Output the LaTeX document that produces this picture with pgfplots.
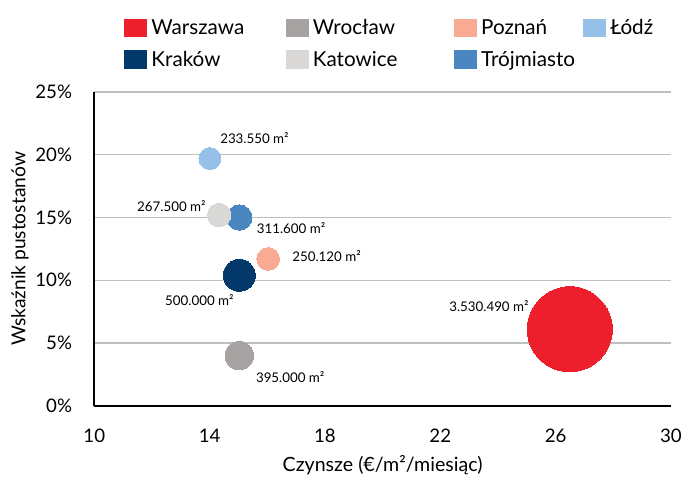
\documentclass[border=0pt]{standalone}
\usepackage{fontspec}
\setmainfont{Lato}
\usepackage{pgfplots}
\pgfplotsset{compat=1.18}
\definecolor{cWar}{HTML}{ED1F2D}
\definecolor{cWro}{HTML}{A6A2A1}
\definecolor{cPoz}{HTML}{F8AA93}
\definecolor{cLod}{HTML}{96C0E8}
\definecolor{cKra}{HTML}{02386A}
\definecolor{cKat}{HTML}{D9D8D6}
\definecolor{cTro}{HTML}{4A87C0}
\begin{document}
\begin{tikzpicture}
\begin{axis}[
  scale only axis, width=432.5pt, height=235.3pt,
  xmin=10, xmax=30, ymin=0, ymax=25,
  axis x line=bottom, axis y line=left,
  axis line style={-, black, line width=1.2pt},
  xtick={10,14,18,22,26,30}, ytick={0,5,10,15,20,25},
  major tick length=0pt,
  ymajorgrids, grid style={color=black!25, line width=0.8pt},
  /pgf/number format/assume math mode=true,
  xticklabel={\pgfmathprintnumber{\tick}},
  yticklabel={\pgfmathprintnumber{\tick}\%},
  ticklabel style={font=\fontsize{14}{17}\selectfont},
  yticklabel style={inner sep=0pt, anchor=east, xshift=-16.5pt},
  xticklabel style={inner sep=0pt, anchor=north, yshift=-17.5pt},
  xlabel={Czynsze (€/m²/miesiąc)},
  ylabel={Wskaźnik pustostanów},
  xlabel style={font=\fontsize{14.7}{18}\selectfont, at={(axis description cs:0.5,-0.1906)}, anchor=center, inner sep=0pt},
  ylabel style={font=\fontsize{14.4}{18}\selectfont, at={(axis description cs:-0.129,0.5)}, anchor=center, inner sep=0pt, rotate=0},
  clip=false,
  legend columns=4,
  legend cell align=left,
  legend image code/.code={\fill[#1] (0pt,-6.9pt) rectangle (17.4pt,6.9pt);},
  legend style={at={(axis description cs:0.0515,1.235)}, anchor=north west,
    draw=none, fill=none, inner sep=0pt,
    nodes={inner sep=0pt, scale=1},
    column sep=0pt, row sep=10pt,
    font=\fontsize{15.5}{18}\selectfont,
    /tikz/every even column/.append style={column sep=0pt}},
]
\addlegendimage{fill=cWar, draw=none}
\addlegendentry{\makebox[103.7pt][l]{\hspace{3pt}Warszawa}}
\addlegendimage{fill=cWro, draw=none}
\addlegendentry{\makebox[108.75pt][l]{\hspace{3pt}Wrocław}}
\addlegendimage{fill=cPoz, draw=none}
\addlegendentry{\makebox[79.5pt][l]{\hspace{3pt}Poznań}}
\addlegendimage{fill=cLod, draw=none}
\addlegendentry{\hspace{3pt}Łódź}
\addlegendimage{fill=cKra, draw=none}
\addlegendentry{\makebox[103.7pt][l]{\hspace{3pt}Kraków}}
\addlegendimage{fill=cKat, draw=none}
\addlegendentry{\makebox[108.75pt][l]{\hspace{3pt}Katowice}}
\addlegendimage{fill=cTro, draw=none}
\addlegendentry{\makebox[79.5pt][l]{\hspace{3pt}Trójmiasto}}

% bubbles: area in thousand m2, radius = 12pt * sqrt(area/500)
\addplot[forget plot, only marks, mark=*, color=cWar, line width=0pt, mark size={12*sqrt(3530.49/500)}] coordinates {(26.49,6.1)};
\addplot[forget plot, only marks, mark=*, color=cWro, line width=0pt, mark size={12*sqrt(395/500)}] coordinates {(15.03,4.0)};
\addplot[forget plot, only marks, mark=*, color=cKra, line width=0pt, mark size={12*sqrt(500/500)}] coordinates {(15.03,10.4)};
\addplot[forget plot, only marks, mark=*, color=cPoz, line width=0pt, mark size={12*sqrt(250.12/500)}] coordinates {(16.03,11.7)};
\addplot[forget plot, only marks, mark=*, color=cTro, line width=0pt, mark size={12*sqrt(311.6/500)}] coordinates {(15.03,15.0)};
\addplot[forget plot, only marks, mark=*, color=cKat, line width=0pt, mark size={12*sqrt(267.5/500)}] coordinates {(14.33,15.2)};
\addplot[forget plot, only marks, mark=*, color=cLod, line width=0pt, mark size={12*sqrt(233.55/500)}] coordinates {(14.01,19.7)};

\begin{scope}[every node/.style={inner sep=0pt, font=\fontsize{10}{12}\selectfont}]
\node[anchor=west] at (axis cs:14.36,21.33) {233.550 m²};
\node[anchor=east] at (axis cs:13.87,15.88) {267.500 m²};
\node[anchor=west] at (axis cs:15.63,14.16) {311.600 m²};
\node[anchor=west] at (axis cs:16.86,11.93) {250.120 m²};
\node[anchor=east] at (axis cs:14.84,8.42) {500.000 m²};
\node[anchor=west] at (axis cs:15.6,2.31) {395.000 m²};
\node[anchor=east] at (axis cs:25.07,7.94) {3.530.490 m²};
\end{scope}
\end{axis}
\pgfresetboundingbox
\path[use as bounding box] ([shift={(-70.7pt,-58.7pt)}]current axis.south west) rectangle ([shift={(441.5pt,304.3pt)}]current axis.south west);
\end{tikzpicture}
\end{document}
